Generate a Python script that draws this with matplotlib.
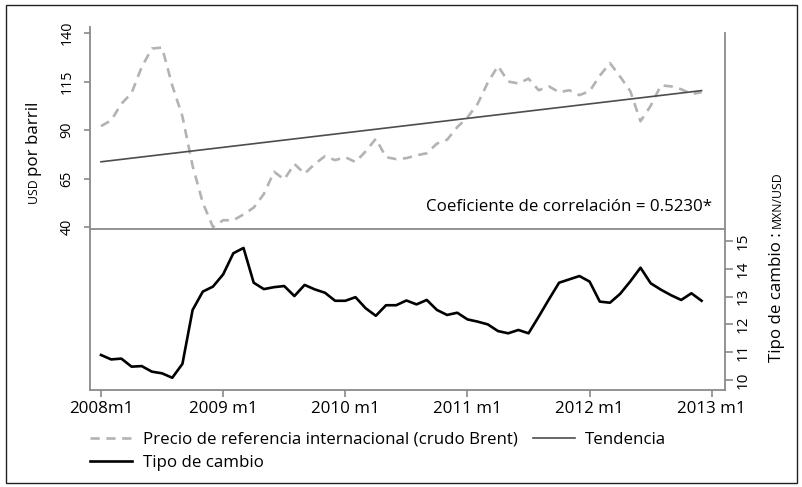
import numpy as np
import matplotlib.pyplot as plt
from matplotlib.patches import Rectangle

plt.rcParams['font.family'] = ['Open Sans', 'DejaVu Sans']

# monthly series, 2008m1 .. 2012m12
months = np.arange(60)
brent = [92, 95, 103.5, 109, 122.5, 132, 132.5, 113, 97, 71.5, 52.5, 40,
         43.5, 43.5, 46.5, 50, 57, 68.5, 64.5, 72.5, 67.5, 72.5, 76.5, 74.5,
         76, 73.5, 79, 85.5, 76, 75, 75.5, 77, 78, 83, 85, 91.5,
         96.5, 103.5, 114.5, 123, 115, 114, 116.5, 110.5, 112.5, 109.5, 110.5, 108,
         110, 118, 124.5, 117.5, 110, 94.5, 102.5, 113, 112.5, 111, 108.5, 109.5]
tipo_cambio = [10.90, 10.74, 10.77, 10.48, 10.50, 10.30, 10.24, 10.08, 10.58, 12.52,
               13.18, 13.36, 13.80, 14.56, 14.75, 13.50, 13.27, 13.34, 13.38, 13.02,
               13.42, 13.26, 13.14, 12.85, 12.85, 12.98, 12.58, 12.31, 12.69, 12.69,
               12.86, 12.72, 12.88, 12.52, 12.34, 12.42, 12.18, 12.10, 12.00, 11.76,
               11.68, 11.80, 11.68, 12.28, 12.90, 13.50, 13.62, 13.74, 13.54, 12.82,
               12.78, 13.10, 13.55, 14.04, 13.48, 13.25, 13.05, 12.88, 13.12, 12.85]
xtick_pos = [0, 12, 24, 36, 48, 60]
xtick_labels = ['2008m1', '2009 m1', '2010 m1', '2011 m1', '2012 m1', '2013 m1']
brent_ticks = [40, 65, 90, 115, 140]
tc_ticks = [10, 11, 12, 13, 14, 15]
corr_text = 'Coeficiente de correlación = 0.5230*'

W, H = 802, 487
spine_gray = '#8a8a8a'
fs = 12.2

fig = plt.figure(figsize=(W / 100, H / 100), dpi=100)
ax = fig.add_axes([90 / W, 1 - 390 / H, 635 / W, 363 / H])
ax2 = ax.twinx()

# linear trend of the Brent price
trend = np.polyval(np.polyfit(months, brent, 1), months)

l1, = ax.plot(months, brent, color='#b3b3b3', lw=1.9, dashes=(3.5, 2.5),
              label='Precio de referencia internacional (crudo Brent)')
l2, = ax.plot(months, trend, color='#4d4d4d', lw=1.2, label='Tendencia')
l3, = ax2.plot(months, tipo_cambio, color='black', lw=1.9, label='Tipo de cambio')
ax.axhline(39, color=spine_gray, lw=1.3)

ax.set_xlim(-1.08, 61.3)
ax.set_ylim(-44.0, 143.1)
ax2.set_ylim(9.64, 22.70)

ax.set_xticks(xtick_pos)
ax.set_xticklabels(xtick_labels, fontsize=fs)
ax.set_yticks(brent_ticks)
ax.set_yticklabels([str(t) for t in brent_ticks], rotation=90, va='center', fontsize=10.3)
ax2.set_yticks(tc_ticks)
ax2.set_yticklabels([str(t) for t in tc_ticks], rotation=90, va='center', fontsize=11)

ax.tick_params(axis='x', length=5, width=1.2, color=spine_gray, pad=3)
ax.tick_params(axis='y', length=4.5, width=1.2, color=spine_gray, pad=6.5)
ax2.tick_params(axis='y', length=5.5, width=1.2, color=spine_gray, pad=2)

for s in ['top', 'right']:
    ax.spines[s].set_visible(False)
for s in ['top', 'left', 'bottom']:
    ax2.spines[s].set_visible(False)
for a in [ax, ax2]:
    for s in a.spines.values():
        s.set_color(spine_gray)
        s.set_linewidth(1.3)
ax2.spines['right'].set_bounds(9.64, 22.48)

ax.text(60.0, 50.3, corr_text, ha='right', va='center', fontsize=fs)


def place_label(x_base, y_center_px, parts):
    # rotated label built from pieces, small caps faked with a smaller size
    renderer = fig.canvas.get_renderer()
    texts, lengths = [], []
    for s, size in parts:
        t = fig.text(x_base / W, 0, s, rotation=90, rotation_mode='anchor',
                     ha='left', va='baseline', fontsize=size)
        texts.append(t)
        lengths.append(t.get_window_extent(renderer).height)
    ybot = (H - y_center_px) - sum(lengths) / 2
    for t, L in zip(texts, lengths):
        t.set_y(ybot / H)
        ybot += L


place_label(38, 153, [('USD ', 8.8), ('por barril', fs)])
place_label(781, 267, [('Tipo de cambio : ', fs), ('MXN/USD', 8.8)])

fig.legend([l1, l3, l2],
           [l1.get_label(), l3.get_label(), l2.get_label()],
           ncol=2, loc='upper left', bbox_to_anchor=(90 / W, 1 - 432 / H),
           frameon=False, fontsize=fs, borderpad=0, borderaxespad=0,
           handlelength=2.5, handletextpad=0.6, labelspacing=0.4,
           columnspacing=0.9)

fig.patches.append(Rectangle((6 / W, 4 / H), 791 / W, 478 / H, transform=fig.transFigure,
                             fill=False, edgecolor='#222222', lw=1.0))

fig.savefig('out.png', dpi=100)
